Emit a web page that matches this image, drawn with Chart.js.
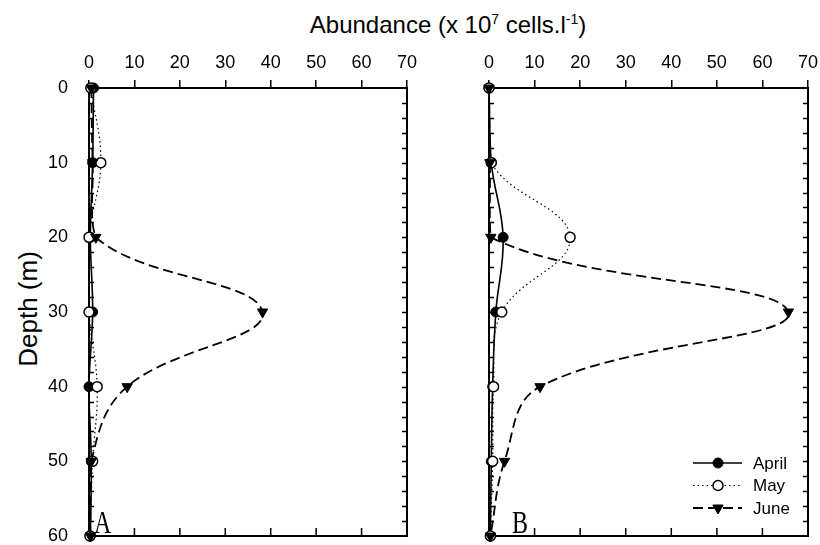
<!DOCTYPE html>
<html>
<head>
<meta charset="utf-8">
<script src="https://cdn.jsdelivr.net/npm/chart.js@4.4.1/dist/chart.umd.min.js"></script>
<style>
  body { margin: 0; background: #fff; width: 820px; height: 545px; position: relative; overflow: hidden;
         font-family: "Liberation Sans", Arial, sans-serif; color: #000; }
  #wrap-a { position: absolute; left: 0; top: 0; width: 420px; height: 545px; }
  #wrap-b { position: absolute; left: 440px; top: 0; width: 380px; height: 545px; }
  .title { position: absolute; left: 448px; top: 13px; transform: translateX(-50%); font-size: 24px; white-space: nowrap; line-height: 1; }
  .title sup { font-size: 14px; vertical-align: 9px; line-height: 0; }
  .ylab { position: absolute; left: 28px; top: 309px; transform: translate(-50%, -50%) rotate(-90deg); font-size: 26px; white-space: nowrap; line-height: 1; }
  .panel { position: absolute; font-family: "Liberation Serif", "Times New Roman", serif; font-size: 24px; line-height: 1;
           transform-origin: 50% 20px; transform: scaleY(1.3); }
</style>
</head>
<body>
<div class="title">Abundance (x 10<sup>7</sup> cells.l<sup>-1</sup>)</div>
<div class="ylab">Depth (m)</div>
<div id="wrap-a"><canvas id="chart-a" width="420" height="545"></canvas></div>
<div id="wrap-b"><canvas id="chart-b" width="380" height="545"></canvas></div>
<div class="panel" style="left:94px; top:513px;">A</div>
<div class="panel" style="left:512px; top:513px;">B</div>
<script>
const depths = [0, 10, 20, 30, 40, 50, 60];

// panel A
const aprilA = [1.0, 0.8, 0.3, 0.8, 0, 0.5, 0.3];
const mayA   = [0.4, 2.6, 0, 0, 1.8, 0.8, 0.2];
const juneA  = [0.5, 0.8, 1.5, 38.2, 8.4, 0.5, 0.3];

// panel B
const aprilB = [0, 0.5, 3.1, 1.5, 0.8, 0.5, 0.3];
const mayB   = [0, 0.5, 17.8, 2.8, 1.0, 0.8, 0.3];
const juneB  = [0, 0.2, 0.4, 65.7, 11.2, 3.4, 0.3];

const seriesNames = ['April', 'May', 'June'];

Chart.defaults.font.family = '"Liberation Sans", Arial, sans-serif';
Chart.defaults.color = '#000';

const toPoints = (vals) => depths.map((d, i) => ({x: vals[i], y: d}));

// June drawn on top, April underneath
const makeDatasets = (april, may, june) => [
  {
    label: seriesNames[0],
    data: toPoints(april),
    order: 3,
    borderColor: '#000',
    borderWidth: 1.6,
    pointStyle: 'circle',
    pointRadius: 5,
    pointBackgroundColor: '#000',
    pointBorderColor: '#000',
    pointBorderWidth: 1,
    tension: 0.4,
    clip: false,
  },
  {
    label: seriesNames[1],
    data: toPoints(may),
    order: 2,
    borderColor: '#000',
    borderWidth: 1.2,
    borderDash: [1.5, 3],
    pointStyle: 'circle',
    pointRadius: 5,
    pointBackgroundColor: '#fff',
    pointBorderColor: '#000',
    pointBorderWidth: 1.5,
    tension: 0.4,
    clip: false,
  },
  {
    label: seriesNames[2],
    data: toPoints(june),
    order: 1,
    borderColor: '#000',
    borderWidth: 1.8,
    borderDash: [10, 5],
    pointStyle: 'triangle',
    pointRotation: 180,
    pointRadius: 6,
    pointBackgroundColor: '#000',
    pointBorderColor: '#000',
    pointBorderWidth: 1,
    tension: 0.4,
    clip: false,
  },
];

// box around plot area + inward ticks
const framePlugin = {
  id: 'frame',
  beforeDatasetsDraw(chart) {
    const {ctx, chartArea: a} = chart;
    const x = chart.scales.x;
    const y = chart.scales.y;
    ctx.save();
    ctx.strokeStyle = '#000';
    ctx.lineWidth = 2;
    ctx.strokeRect(a.left, a.top, a.right - a.left, a.bottom - a.top);
    ctx.lineWidth = 1.5;
    ctx.beginPath();
    for (let v = 10; v <= 70; v += 10) {
      const px = x.getPixelForValue(v);
      ctx.moveTo(px, a.bottom);
      ctx.lineTo(px, a.bottom - 8);
    }
    for (let d = 2; d < 60; d += 2) {
      const py = Math.round(y.getPixelForValue(d)) + 0.5;
      ctx.moveTo(a.left, py);
      ctx.lineTo(a.left + 5, py);
      ctx.moveTo(a.right, py);
      ctx.lineTo(a.right - 5, py);
    }
    ctx.stroke();
    ctx.restore();
  },
};

const boxLegend = {
  id: 'boxLegend',
  afterDatasetsDraw(chart) {
    const ctx = chart.ctx;
    ctx.save();
    chart.data.datasets.forEach((ds, i) => {
      const yy = 463 + i * 22.5;
      ctx.strokeStyle = '#000';
      ctx.lineWidth = ds.borderWidth;
      ctx.setLineDash(ds.borderDash || []);
      ctx.beginPath();
      ctx.moveTo(253, yy);
      ctx.lineTo(302, yy);
      ctx.stroke();
      ctx.setLineDash([]);
      ctx.fillStyle = ds.pointBackgroundColor;
      ctx.strokeStyle = ds.pointBorderColor;
      ctx.lineWidth = ds.pointBorderWidth;
      Chart.helpers.drawPoint(ctx, {
        pointStyle: ds.pointStyle,
        radius: ds.pointRadius,
        rotation: ds.pointRotation || 0,
        borderWidth: ds.pointBorderWidth,
      }, 278, yy);
      ctx.fillStyle = '#000';
      ctx.font = '17px "Liberation Sans", Arial, sans-serif';
      ctx.textBaseline = 'middle';
      ctx.fillText(ds.label, 313, yy + 1);
    });
    ctx.restore();
  },
};

const makeChart = (id, datasets, yWidth, showY, padRight, extraPlugins) => new Chart(document.getElementById(id), {
  type: 'line',
  data: {datasets},
  options: {
    responsive: false,
    devicePixelRatio: 1,
    animation: false,
    indexAxis: 'y',
    layout: {padding: {top: 0, left: 0, right: padRight, bottom: 9}},
    scales: {
      x: {
        type: 'linear',
        position: 'top',
        min: 0,
        max: 70,
        ticks: {stepSize: 10, padding: 6, font: {size: 18}, maxRotation: 0},
        grid: {drawOnChartArea: false, drawTicks: true, tickLength: 8, color: '#000', lineWidth: 1.5},
        border: {display: false},
        afterFit: (s) => { s.height = 88; s.paddingLeft = 0; s.paddingRight = 0; },
      },
      y: {
        type: 'linear',
        reverse: true,
        min: 0,
        max: 60,
        ticks: {display: showY, stepSize: 10, padding: 13, font: {size: 18}},
        grid: {display: false},
        border: {display: false},
        afterFit: (s) => { s.width = yWidth; s.paddingTop = 0; s.paddingBottom = 0; },
      },
    },
    plugins: {
      legend: {display: false},
      tooltip: {enabled: false},
    },
  },
  plugins: [framePlugin, ...extraPlugins],
});

makeChart('chart-a', makeDatasets(aprilA, mayA, juneA), 89, true, 13, []);
makeChart('chart-b', makeDatasets(aprilB, mayB, juneB), 49, false, 12, [boxLegend]);
</script>
</body>
</html>
